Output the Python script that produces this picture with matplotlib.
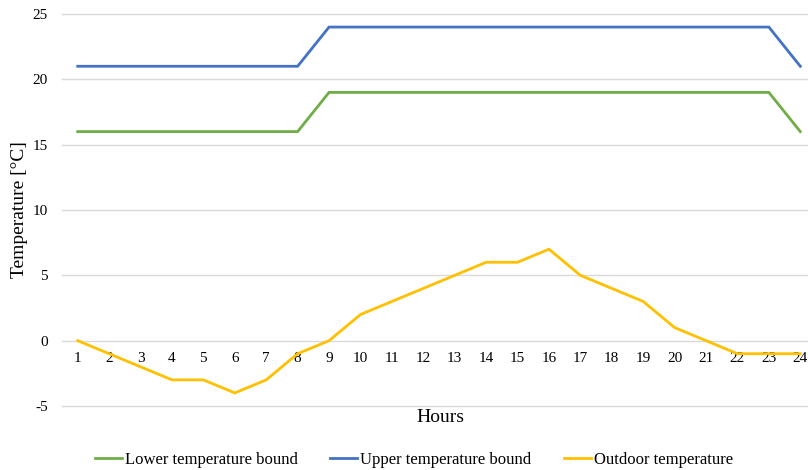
import matplotlib
matplotlib.use("Agg")
import matplotlib.pyplot as plt

hours = list(range(1, 25))
hour_labels = [str(h) for h in hours]
lower = [16]*8 + [19]*15 + [16]
upper = [21]*8 + [24]*15 + [21]
outdoor = [0, -1, -2, -3, -3, -4, -3, -1, 0, 2, 3, 4, 5, 6, 6, 7, 5, 4, 3, 1, 0, -1, -1, -1]
yticks = [-5, 0, 5, 10, 15, 20, 25]

plt.rcParams['font.family'] = ['Liberation Serif', 'DejaVu Serif']

fig = plt.figure(figsize=(8.08, 4.70), dpi=100)
W, H = 808, 470
left, right = 62, 816
top, bottom = 14, 406
ax = fig.add_axes([left/W, 1-bottom/H, (right-left)/W, (bottom-top)/H])

ax.plot(hours, lower, color='#70AD47', lw=2.0, label='Lower temperature bound', solid_joinstyle='miter')
ax.plot(hours, upper, color='#4472C4', lw=2.0, label='Upper temperature bound', solid_joinstyle='miter')
ax.plot(hours, outdoor, color='#FFC000', lw=2.0, label='Outdoor temperature', solid_joinstyle='miter')

ax.set_xlim(0.5, 24.5)
ax.set_ylim(-5, 25)
ax.set_yticks(yticks)
ax.set_yticklabels([str(v) for v in yticks])
ax.set_xticks(hours)
ax.set_xticklabels(hour_labels)
ax.grid(axis='y', color='#D9D9D9', lw=1.0)
for gl in ax.get_ygridlines():
    gl.set_clip_on(False)
ax.set_axisbelow(True)
for s in ['top', 'right', 'left']:
    ax.spines[s].set_visible(False)
ax.spines['bottom'].set_position(('data', 0))
ax.spines['bottom'].set_visible(False)
ax.tick_params(axis='both', length=0, labelsize=11, colors='#000000')
ax.tick_params(axis='x', pad=8)
ax.tick_params(axis='y', pad=10)

fig.text(20/W, 1-210/H, 'Temperature [°C]', rotation=90, ha='center', va='center', fontsize=14)
fig.text(440/W, 1-418/H, 'Hours', ha='center', va='center', fontsize=14)

fig.legend(loc='center', bbox_to_anchor=(414/W, 1-460/H), ncol=3, frameon=False,
           fontsize=12, handlelength=1.6, handletextpad=0.2, columnspacing=1.95)

fig.savefig('out.png', dpi=100)
